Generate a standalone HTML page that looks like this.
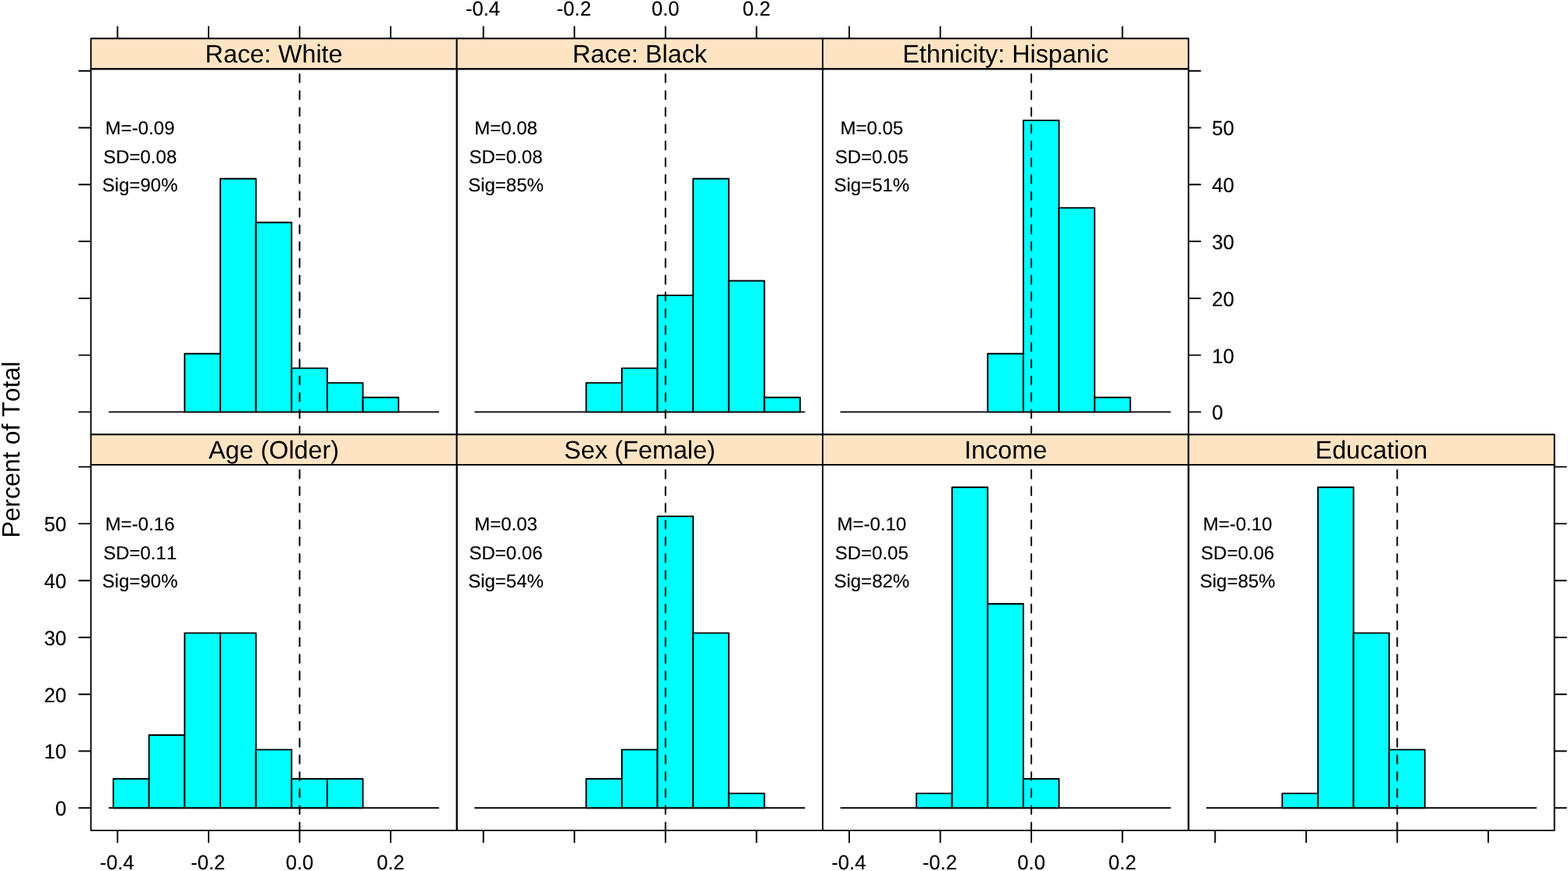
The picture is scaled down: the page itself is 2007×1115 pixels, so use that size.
<!DOCTYPE html>
<html lang="en"><head><meta charset="utf-8"><title>Histograms</title>
<style>html,body{margin:0;padding:0;background:#fff;overflow:hidden;}svg{display:block;}</style></head>
<body>
<svg width="2007" height="1115" viewBox="0 0 2007 1115" font-family='"Liberation Sans", "DejaVu Sans", sans-serif' fill="#000" stroke="#000" stroke-linecap="round" stroke-linejoin="round" style="font-kerning:none;text-rendering:geometricPrecision">
<rect x="0" y="0" width="2007" height="1115" fill="#fff" stroke="none"/>
<defs>
<clipPath id="c00"><rect x="116.4" y="88.2" width="468.3" height="468.1"/></clipPath>
<clipPath id="c01"><rect x="584.7" y="88.2" width="468.3" height="468.1"/></clipPath>
<clipPath id="c02"><rect x="1053" y="88.2" width="468.3" height="468.1"/></clipPath>
<clipPath id="c10"><rect x="116.4" y="594.9" width="468.3" height="468.2"/></clipPath>
<clipPath id="c11"><rect x="584.7" y="594.9" width="468.3" height="468.2"/></clipPath>
<clipPath id="c12"><rect x="1053" y="594.9" width="468.3" height="468.2"/></clipPath>
<clipPath id="c13"><rect x="1521.3" y="594.9" width="468.3" height="468.2"/></clipPath>
</defs>
<rect x="116.4" y="49.3" width="468.3" height="38.9" fill="#fee4c2" stroke-width="1.9"/>
<g clip-path="url(#c00)">
<line x1="139.81" y1="527.4" x2="561.29" y2="527.4" stroke-width="1.9"/>
<rect x="236.36" y="452.75" width="45.63" height="74.65" fill="#00ffff" stroke-width="1.9"/>
<rect x="281.99" y="228.82" width="45.63" height="298.58" fill="#00ffff" stroke-width="1.9"/>
<rect x="327.62" y="284.8" width="45.63" height="242.6" fill="#00ffff" stroke-width="1.9"/>
<rect x="373.25" y="471.42" width="45.63" height="55.98" fill="#00ffff" stroke-width="1.9"/>
<rect x="418.88" y="490.08" width="45.63" height="37.32" fill="#00ffff" stroke-width="1.9"/>
<rect x="464.51" y="508.74" width="45.63" height="18.66" fill="#00ffff" stroke-width="1.9"/>
<line x1="383.5" y1="556.7" x2="383.5" y2="88.2" stroke-width="2.0" stroke-dasharray="10.6 10.88"/>
</g>
<text x="179.2" y="172.09" font-size="24" text-anchor="middle" stroke-width="0.15">M=-0.09</text>
<text x="179.2" y="208.88" font-size="24" text-anchor="middle" stroke-width="0.15">SD=0.08</text>
<text x="179.2" y="245.37" font-size="24" text-anchor="middle" stroke-width="0.15">Sig=90%</text>
<rect x="116.4" y="88.2" width="468.3" height="468.1" fill="none" stroke-width="1.9"/>
<text x="350.55" y="79.91" font-size="32.3" text-anchor="middle" stroke="none">Race: White</text>
<rect x="584.7" y="49.3" width="468.3" height="38.9" fill="#fee4c2" stroke-width="1.9"/>
<g clip-path="url(#c01)">
<line x1="608.12" y1="527.4" x2="1029.59" y2="527.4" stroke-width="1.9"/>
<rect x="750.29" y="490.08" width="45.63" height="37.32" fill="#00ffff" stroke-width="1.9"/>
<rect x="795.92" y="471.42" width="45.63" height="55.98" fill="#00ffff" stroke-width="1.9"/>
<rect x="841.55" y="378.11" width="45.63" height="149.29" fill="#00ffff" stroke-width="1.9"/>
<rect x="887.18" y="228.82" width="45.63" height="298.58" fill="#00ffff" stroke-width="1.9"/>
<rect x="932.81" y="359.45" width="45.63" height="167.95" fill="#00ffff" stroke-width="1.9"/>
<rect x="978.44" y="508.74" width="45.63" height="18.66" fill="#00ffff" stroke-width="1.9"/>
<line x1="851.8" y1="556.7" x2="851.8" y2="88.2" stroke-width="2.0" stroke-dasharray="10.6 10.88"/>
</g>
<text x="647.5" y="172.09" font-size="24" text-anchor="middle" stroke-width="0.15">M=0.08</text>
<text x="647.5" y="208.88" font-size="24" text-anchor="middle" stroke-width="0.15">SD=0.08</text>
<text x="647.5" y="245.37" font-size="24" text-anchor="middle" stroke-width="0.15">Sig=85%</text>
<rect x="584.7" y="88.2" width="468.3" height="468.1" fill="none" stroke-width="1.9"/>
<text x="818.85" y="79.91" font-size="32.3" text-anchor="middle" stroke="none">Race: Black</text>
<rect x="1053" y="49.3" width="468.3" height="38.9" fill="#fee4c2" stroke-width="1.9"/>
<g clip-path="url(#c02)">
<line x1="1076.41" y1="527.4" x2="1497.88" y2="527.4" stroke-width="1.9"/>
<rect x="1264.22" y="452.75" width="45.63" height="74.65" fill="#00ffff" stroke-width="1.9"/>
<rect x="1309.85" y="154.17" width="45.63" height="373.23" fill="#00ffff" stroke-width="1.9"/>
<rect x="1355.48" y="266.14" width="45.63" height="261.26" fill="#00ffff" stroke-width="1.9"/>
<rect x="1401.11" y="508.74" width="45.63" height="18.66" fill="#00ffff" stroke-width="1.9"/>
<line x1="1320.1" y1="556.7" x2="1320.1" y2="88.2" stroke-width="2.0" stroke-dasharray="10.6 10.88"/>
</g>
<text x="1115.8" y="172.09" font-size="24" text-anchor="middle" stroke-width="0.15">M=0.05</text>
<text x="1115.8" y="208.88" font-size="24" text-anchor="middle" stroke-width="0.15">SD=0.05</text>
<text x="1115.8" y="245.37" font-size="24" text-anchor="middle" stroke-width="0.15">Sig=51%</text>
<rect x="1053" y="88.2" width="468.3" height="468.1" fill="none" stroke-width="1.9"/>
<text x="1287.15" y="79.91" font-size="32.3" text-anchor="middle" stroke="none">Ethnicity: Hispanic</text>
<rect x="116.4" y="556.3" width="468.3" height="38.6" fill="#fee4c2" stroke-width="1.9"/>
<g clip-path="url(#c10)">
<line x1="139.81" y1="1034.3" x2="561.29" y2="1034.3" stroke-width="1.9"/>
<rect x="145.1" y="996.98" width="45.63" height="37.32" fill="#00ffff" stroke-width="1.9"/>
<rect x="190.73" y="940.99" width="45.63" height="93.31" fill="#00ffff" stroke-width="1.9"/>
<rect x="236.36" y="810.36" width="45.63" height="223.94" fill="#00ffff" stroke-width="1.9"/>
<rect x="281.99" y="810.36" width="45.63" height="223.94" fill="#00ffff" stroke-width="1.9"/>
<rect x="327.62" y="959.65" width="45.63" height="74.65" fill="#00ffff" stroke-width="1.9"/>
<rect x="373.25" y="996.98" width="45.63" height="37.32" fill="#00ffff" stroke-width="1.9"/>
<rect x="418.88" y="996.98" width="45.63" height="37.32" fill="#00ffff" stroke-width="1.9"/>
<line x1="383.5" y1="1063.5" x2="383.5" y2="594.9" stroke-width="2.0" stroke-dasharray="10.6 10.88"/>
</g>
<text x="179.2" y="678.99" font-size="24" text-anchor="middle" stroke-width="0.15">M=-0.16</text>
<text x="179.2" y="715.78" font-size="24" text-anchor="middle" stroke-width="0.15">SD=0.11</text>
<text x="179.2" y="752.27" font-size="24" text-anchor="middle" stroke-width="0.15">Sig=90%</text>
<rect x="116.4" y="594.9" width="468.3" height="468.2" fill="none" stroke-width="1.9"/>
<text x="350.55" y="586.76" font-size="32.3" text-anchor="middle" stroke="none">Age (Older)</text>
<rect x="584.7" y="556.3" width="468.3" height="38.6" fill="#fee4c2" stroke-width="1.9"/>
<g clip-path="url(#c11)">
<line x1="608.12" y1="1034.3" x2="1029.59" y2="1034.3" stroke-width="1.9"/>
<rect x="750.29" y="996.98" width="45.63" height="37.32" fill="#00ffff" stroke-width="1.9"/>
<rect x="795.92" y="959.65" width="45.63" height="74.65" fill="#00ffff" stroke-width="1.9"/>
<rect x="841.55" y="661.07" width="45.63" height="373.23" fill="#00ffff" stroke-width="1.9"/>
<rect x="887.18" y="810.36" width="45.63" height="223.94" fill="#00ffff" stroke-width="1.9"/>
<rect x="932.81" y="1015.64" width="45.63" height="18.66" fill="#00ffff" stroke-width="1.9"/>
<line x1="851.8" y1="1063.5" x2="851.8" y2="594.9" stroke-width="2.0" stroke-dasharray="10.6 10.88"/>
</g>
<text x="647.5" y="678.99" font-size="24" text-anchor="middle" stroke-width="0.15">M=0.03</text>
<text x="647.5" y="715.78" font-size="24" text-anchor="middle" stroke-width="0.15">SD=0.06</text>
<text x="647.5" y="752.27" font-size="24" text-anchor="middle" stroke-width="0.15">Sig=54%</text>
<rect x="584.7" y="594.9" width="468.3" height="468.2" fill="none" stroke-width="1.9"/>
<text x="818.85" y="586.76" font-size="32.3" text-anchor="middle" stroke="none">Sex (Female)</text>
<rect x="1053" y="556.3" width="468.3" height="38.6" fill="#fee4c2" stroke-width="1.9"/>
<g clip-path="url(#c12)">
<line x1="1076.41" y1="1034.3" x2="1497.88" y2="1034.3" stroke-width="1.9"/>
<rect x="1172.96" y="1015.64" width="45.63" height="18.66" fill="#00ffff" stroke-width="1.9"/>
<rect x="1218.59" y="623.75" width="45.63" height="410.55" fill="#00ffff" stroke-width="1.9"/>
<rect x="1264.22" y="773.04" width="45.63" height="261.26" fill="#00ffff" stroke-width="1.9"/>
<rect x="1309.85" y="996.98" width="45.63" height="37.32" fill="#00ffff" stroke-width="1.9"/>
<line x1="1320.1" y1="1063.5" x2="1320.1" y2="594.9" stroke-width="2.0" stroke-dasharray="10.6 10.88"/>
</g>
<text x="1115.8" y="678.99" font-size="24" text-anchor="middle" stroke-width="0.15">M=-0.10</text>
<text x="1115.8" y="715.78" font-size="24" text-anchor="middle" stroke-width="0.15">SD=0.05</text>
<text x="1115.8" y="752.27" font-size="24" text-anchor="middle" stroke-width="0.15">Sig=82%</text>
<rect x="1053" y="594.9" width="468.3" height="468.2" fill="none" stroke-width="1.9"/>
<text x="1287.15" y="586.76" font-size="32.3" text-anchor="middle" stroke="none">Income</text>
<rect x="1521.3" y="556.3" width="468.3" height="38.6" fill="#fee4c2" stroke-width="1.9"/>
<g clip-path="url(#c13)">
<line x1="1544.71" y1="1034.3" x2="1966.18" y2="1034.3" stroke-width="1.9"/>
<rect x="1641.26" y="1015.64" width="45.63" height="18.66" fill="#00ffff" stroke-width="1.9"/>
<rect x="1686.89" y="623.75" width="45.63" height="410.55" fill="#00ffff" stroke-width="1.9"/>
<rect x="1732.52" y="810.36" width="45.63" height="223.94" fill="#00ffff" stroke-width="1.9"/>
<rect x="1778.15" y="959.65" width="45.63" height="74.65" fill="#00ffff" stroke-width="1.9"/>
<line x1="1788.4" y1="1063.5" x2="1788.4" y2="594.9" stroke-width="2.0" stroke-dasharray="10.6 10.88"/>
</g>
<text x="1584.1" y="678.99" font-size="24" text-anchor="middle" stroke-width="0.15">M=-0.10</text>
<text x="1584.1" y="715.78" font-size="24" text-anchor="middle" stroke-width="0.15">SD=0.06</text>
<text x="1584.1" y="752.27" font-size="24" text-anchor="middle" stroke-width="0.15">Sig=85%</text>
<rect x="1521.3" y="594.9" width="468.3" height="468.2" fill="none" stroke-width="1.9"/>
<text x="1755.45" y="586.76" font-size="32.3" text-anchor="middle" stroke="none">Education</text>
<line x1="150.42" y1="48.4" x2="150.42" y2="34.1" stroke-width="1.9"/>
<line x1="266.96" y1="48.4" x2="266.96" y2="34.1" stroke-width="1.9"/>
<line x1="383.5" y1="48.4" x2="383.5" y2="34.1" stroke-width="1.9"/>
<line x1="500.04" y1="48.4" x2="500.04" y2="34.1" stroke-width="1.9"/>
<line x1="618.72" y1="48.4" x2="618.72" y2="34.1" stroke-width="1.9"/>
<text transform="translate(618.02 19.65) scale(1 1.027)" font-size="25.6" text-anchor="middle" stroke-width="0.15">-0.4</text>
<line x1="735.26" y1="48.4" x2="735.26" y2="34.1" stroke-width="1.9"/>
<text transform="translate(734.56 19.65) scale(1 1.027)" font-size="25.6" text-anchor="middle" stroke-width="0.15">-0.2</text>
<line x1="851.8" y1="48.4" x2="851.8" y2="34.1" stroke-width="1.9"/>
<text transform="translate(851.8 19.65) scale(1 1.027)" font-size="25.6" text-anchor="middle" stroke-width="0.15">0.0</text>
<line x1="968.34" y1="48.4" x2="968.34" y2="34.1" stroke-width="1.9"/>
<text transform="translate(968.34 19.65) scale(1 1.027)" font-size="25.6" text-anchor="middle" stroke-width="0.15">0.2</text>
<line x1="1087.02" y1="48.4" x2="1087.02" y2="34.1" stroke-width="1.9"/>
<line x1="1203.56" y1="48.4" x2="1203.56" y2="34.1" stroke-width="1.9"/>
<line x1="1320.1" y1="48.4" x2="1320.1" y2="34.1" stroke-width="1.9"/>
<line x1="1436.64" y1="48.4" x2="1436.64" y2="34.1" stroke-width="1.9"/>
<line x1="150.42" y1="1064" x2="150.42" y2="1078.3" stroke-width="1.9"/>
<text transform="translate(149.72 1112.5) scale(1 1.027)" font-size="25.6" text-anchor="middle" stroke-width="0.15">-0.4</text>
<line x1="266.96" y1="1064" x2="266.96" y2="1078.3" stroke-width="1.9"/>
<text transform="translate(266.26 1112.5) scale(1 1.027)" font-size="25.6" text-anchor="middle" stroke-width="0.15">-0.2</text>
<line x1="383.5" y1="1064" x2="383.5" y2="1078.3" stroke-width="1.9"/>
<text transform="translate(383.5 1112.5) scale(1 1.027)" font-size="25.6" text-anchor="middle" stroke-width="0.15">0.0</text>
<line x1="500.04" y1="1064" x2="500.04" y2="1078.3" stroke-width="1.9"/>
<text transform="translate(500.04 1112.5) scale(1 1.027)" font-size="25.6" text-anchor="middle" stroke-width="0.15">0.2</text>
<line x1="618.72" y1="1064" x2="618.72" y2="1078.3" stroke-width="1.9"/>
<line x1="735.26" y1="1064" x2="735.26" y2="1078.3" stroke-width="1.9"/>
<line x1="851.8" y1="1064" x2="851.8" y2="1078.3" stroke-width="1.9"/>
<line x1="968.34" y1="1064" x2="968.34" y2="1078.3" stroke-width="1.9"/>
<line x1="1087.02" y1="1064" x2="1087.02" y2="1078.3" stroke-width="1.9"/>
<text transform="translate(1086.32 1112.5) scale(1 1.027)" font-size="25.6" text-anchor="middle" stroke-width="0.15">-0.4</text>
<line x1="1203.56" y1="1064" x2="1203.56" y2="1078.3" stroke-width="1.9"/>
<text transform="translate(1202.86 1112.5) scale(1 1.027)" font-size="25.6" text-anchor="middle" stroke-width="0.15">-0.2</text>
<line x1="1320.1" y1="1064" x2="1320.1" y2="1078.3" stroke-width="1.9"/>
<text transform="translate(1320.1 1112.5) scale(1 1.027)" font-size="25.6" text-anchor="middle" stroke-width="0.15">0.0</text>
<line x1="1436.64" y1="1064" x2="1436.64" y2="1078.3" stroke-width="1.9"/>
<text transform="translate(1436.64 1112.5) scale(1 1.027)" font-size="25.6" text-anchor="middle" stroke-width="0.15">0.2</text>
<line x1="1555.32" y1="1064" x2="1555.32" y2="1078.3" stroke-width="1.9"/>
<line x1="1671.86" y1="1064" x2="1671.86" y2="1078.3" stroke-width="1.9"/>
<line x1="1788.4" y1="1064" x2="1788.4" y2="1078.3" stroke-width="1.9"/>
<line x1="1904.94" y1="1064" x2="1904.94" y2="1078.3" stroke-width="1.9"/>
<line x1="115.5" y1="527.4" x2="101.2" y2="527.4" stroke-width="1.9"/>
<line x1="1522.2" y1="527.4" x2="1536.5" y2="527.4" stroke-width="1.9"/>
<text transform="translate(1551.2 537.36) scale(1 1.027)" font-size="25.6" text-anchor="start" stroke-width="0.15">0</text>
<line x1="115.5" y1="1034.3" x2="101.2" y2="1034.3" stroke-width="1.9"/>
<line x1="1990.5" y1="1034.3" x2="2004.8" y2="1034.3" stroke-width="1.9"/>
<text transform="translate(85 1044.26) scale(1 1.027)" font-size="25.6" text-anchor="end" stroke-width="0.15">0</text>
<line x1="115.5" y1="454.62" x2="101.2" y2="454.62" stroke-width="1.9"/>
<line x1="1522.2" y1="454.62" x2="1536.5" y2="454.62" stroke-width="1.9"/>
<text transform="translate(1551.2 464.58) scale(1 1.027)" font-size="25.6" text-anchor="start" stroke-width="0.15">10</text>
<line x1="115.5" y1="961.52" x2="101.2" y2="961.52" stroke-width="1.9"/>
<line x1="1990.5" y1="961.52" x2="2004.8" y2="961.52" stroke-width="1.9"/>
<text transform="translate(85 971.48) scale(1 1.027)" font-size="25.6" text-anchor="end" stroke-width="0.15">10</text>
<line x1="115.5" y1="381.84" x2="101.2" y2="381.84" stroke-width="1.9"/>
<line x1="1522.2" y1="381.84" x2="1536.5" y2="381.84" stroke-width="1.9"/>
<text transform="translate(1551.2 391.8) scale(1 1.027)" font-size="25.6" text-anchor="start" stroke-width="0.15">20</text>
<line x1="115.5" y1="888.74" x2="101.2" y2="888.74" stroke-width="1.9"/>
<line x1="1990.5" y1="888.74" x2="2004.8" y2="888.74" stroke-width="1.9"/>
<text transform="translate(85 898.7) scale(1 1.027)" font-size="25.6" text-anchor="end" stroke-width="0.15">20</text>
<line x1="115.5" y1="309.06" x2="101.2" y2="309.06" stroke-width="1.9"/>
<line x1="1522.2" y1="309.06" x2="1536.5" y2="309.06" stroke-width="1.9"/>
<text transform="translate(1551.2 319.02) scale(1 1.027)" font-size="25.6" text-anchor="start" stroke-width="0.15">30</text>
<line x1="115.5" y1="815.96" x2="101.2" y2="815.96" stroke-width="1.9"/>
<line x1="1990.5" y1="815.96" x2="2004.8" y2="815.96" stroke-width="1.9"/>
<text transform="translate(85 825.92) scale(1 1.027)" font-size="25.6" text-anchor="end" stroke-width="0.15">30</text>
<line x1="115.5" y1="236.28" x2="101.2" y2="236.28" stroke-width="1.9"/>
<line x1="1522.2" y1="236.28" x2="1536.5" y2="236.28" stroke-width="1.9"/>
<text transform="translate(1551.2 246.24) scale(1 1.027)" font-size="25.6" text-anchor="start" stroke-width="0.15">40</text>
<line x1="115.5" y1="743.18" x2="101.2" y2="743.18" stroke-width="1.9"/>
<line x1="1990.5" y1="743.18" x2="2004.8" y2="743.18" stroke-width="1.9"/>
<text transform="translate(85 753.14) scale(1 1.027)" font-size="25.6" text-anchor="end" stroke-width="0.15">40</text>
<line x1="115.5" y1="163.5" x2="101.2" y2="163.5" stroke-width="1.9"/>
<line x1="1522.2" y1="163.5" x2="1536.5" y2="163.5" stroke-width="1.9"/>
<text transform="translate(1551.2 173.46) scale(1 1.027)" font-size="25.6" text-anchor="start" stroke-width="0.15">50</text>
<line x1="115.5" y1="670.4" x2="101.2" y2="670.4" stroke-width="1.9"/>
<line x1="1990.5" y1="670.4" x2="2004.8" y2="670.4" stroke-width="1.9"/>
<text transform="translate(85 680.36) scale(1 1.027)" font-size="25.6" text-anchor="end" stroke-width="0.15">50</text>
<line x1="115.5" y1="90.72" x2="101.2" y2="90.72" stroke-width="1.9"/>
<line x1="1522.2" y1="90.72" x2="1536.5" y2="90.72" stroke-width="1.9"/>
<line x1="115.5" y1="597.62" x2="101.2" y2="597.62" stroke-width="1.9"/>
<line x1="1990.5" y1="597.62" x2="2004.8" y2="597.62" stroke-width="1.9"/>
<text transform="translate(24.8 575.6) rotate(-90)" font-size="32" text-anchor="middle" stroke="none">Percent of Total</text>
</svg>
</body></html>
